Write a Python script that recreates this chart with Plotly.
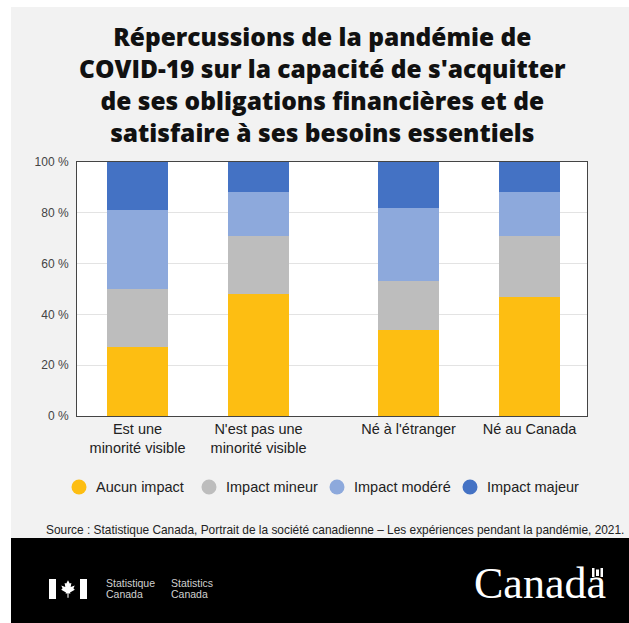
import plotly.graph_objects as go

# ---- data ----
categories = ["Est une<br>minorité visible", "N'est pas une<br>minorité visible",
              "Né à l'étranger", "Né au Canada"]
series_names = ["Aucun impact", "Impact mineur", "Impact modéré", "Impact majeur"]
aucun = [27, 48, 34, 47]
mineur = [23, 23, 19, 24]
modere = [31, 17, 29, 17]
majeur = [19, 12, 18, 12]
y_ticks = [0, 20, 40, 60, 80, 100]
y_tick_labels = ["0 %", "20 %", "40 %", "60 %", "80 %", "100 %"]

title_lines = ["Répercussions de la pandémie de",
               "COVID-19 sur la capacité de s'acquitter",
               "de ses obligations financières et de",
               "satisfaire à ses besoins essentiels"]
source_text = ("Source : Statistique Canada, Portrait de la société canadienne – "
               "Les expériences pendant la pandémie, 2021.")

# ---- layout helpers (window pixels) ----
W, H = 629, 623
L, R, T, B = 77, 587, 162, 416          # plot area
def px(x):  # pixel x -> paper
    return (x - L) / (R - L)
def py(y):  # pixel y -> paper
    return (B - y) / (B - T)

x_pos = [1, 2, 3.24, 4.24]
colors = ["#FDBE12", "#BDBDBD", "#8DA9DC", "#4472C4"]
values = [aucun, mineur, modere, majeur]

fig = go.Figure()
for name, vals, col in zip(series_names, values, colors):
    fig.add_trace(go.Bar(x=x_pos, y=vals, name=name, marker=dict(color=col, line=dict(width=0)),
                         width=0.5, showlegend=False))

font_sans = "Arial, Liberation Sans, sans-serif"

def rect(x0, x1, y0, y1, color, layer="above"):
    return dict(type="rect", xref="paper", yref="paper", x0=px(x0), x1=px(x1),
                y0=py(y1), y1=py(y0), fillcolor=color, line=dict(width=0), layer=layer)

shapes = [
    rect(-5, W + 5, -5, 7, "white", "below"),          # top white strip
    rect(-5, 11, -5, H + 5, "white", "below"),         # left white strip
    rect(11, W + 5, 538, H + 5, "black", "below"),     # footer
    rect(49, 56, 579, 599, "white"),
    rect(80, 87, 579, 599, "white"),
    rect(592, 594.5, 568, 577, "white"),
    rect(600.5, 603, 568, 577, "white"),
    rect(596, 599, 569.5, 576, "white"),
]

leaf = [(0, -6.5), (1.3, -4), (2.5, -4.5), (2, -1.5), (5, -2.5), (4, -0.5), (5, 0.5),
        (1.5, 2.5), (1.8, 3.5), (0.4, 3.2), (0.4, 6.5), (-0.4, 6.5), (-0.4, 3.2),
        (-1.8, 3.5), (-1.5, 2.5), (-5, 0.5), (-4, -0.5), (-5, -2.5), (-2, -1.5),
        (-2.5, -4.5), (-1.3, -4)]
cx, cy, s = 68, 589, 1.35
path = "M " + " L ".join(f"{px(cx + a * s):.5f},{py(cy + b * s):.5f}" for a, b in leaf) + " Z"
shapes.append(dict(type="path", xref="paper", yref="paper", path=path,
                   fillcolor="white", line=dict(width=0)))

annotations = [dict(text="<br>".join(title_lines), x=px(322.5), y=py(84), xref="paper", yref="paper",
                    xanchor="center", yanchor="middle", showarrow=False, align="center",
                    font=dict(family="Open Sans", size=24.5, color="#111111", weight=800))]

# manual legend (circles + labels)
legend_circle_x = [79, 209, 337, 470]
legend_y = 487
for name, col, cxl in zip(series_names, colors, legend_circle_x):
    shapes.append(dict(type="circle", xref="paper", yref="paper",
                       x0=px(cxl - 7.5), x1=px(cxl + 7.5), y0=py(legend_y + 7.5), y1=py(legend_y - 7.5),
                       fillcolor=col, line=dict(width=0)))
    annotations.append(dict(text=name, x=px(cxl + 15), y=py(legend_y), xref="paper", yref="paper",
                            xanchor="left", yanchor="middle", showarrow=False,
                            font=dict(family=font_sans, size=14.5, color="#222222")))

annotations.append(dict(text=source_text, x=px(334.5), y=py(530), xref="paper", yref="paper",
                        xanchor="center", yanchor="middle", showarrow=False,
                        font=dict(family=font_sans, size=11.9, color="#222222")))
for txt, xx, yy in [("Statistique", 104, 583), ("Canada", 104, 594),
                    ("Statistics", 169, 583), ("Canada", 169, 594)]:
    annotations.append(dict(text=txt, x=px(xx), y=py(yy), xref="paper", yref="paper",
                            xanchor="left", yanchor="middle", showarrow=False,
                            font=dict(family=font_sans, size=10.5, color="#d0d0d0")))
annotations.append(dict(text="Canada", x=px(472), y=py(583), xref="paper", yref="paper",
                        xanchor="left", yanchor="middle", showarrow=False,
                        font=dict(family="Liberation Serif, serif", size=44, color="white")))

fig.update_layout(
    width=W, height=H,
    margin=dict(l=L, r=W - R, t=T, b=H - B),
    paper_bgcolor="#F2F2F2", plot_bgcolor="white",
    barmode="stack", bargap=0,
    showlegend=False,
    shapes=shapes, annotations=annotations,
    xaxis=dict(range=[0.5, 0.5 + (R - L) / 121], tickvals=x_pos, ticktext=categories,
               showgrid=False, zeroline=False, showline=True, mirror=True,
               linecolor="#444444", linewidth=1, ticks="", automargin=False,
               tickfont=dict(family=font_sans, size=14.5, color="#222222"), fixedrange=True),
    yaxis=dict(range=[0, 100], tickvals=y_ticks, ticktext=y_tick_labels, showgrid=True,
               gridcolor="#E3E3E3", zeroline=False, showline=True, mirror=True,
               linecolor="#444444", linewidth=1, ticks="", automargin=False, ticklabelstandoff=5,
               tickfont=dict(family=font_sans, size=12, color="#444444"), fixedrange=True),
)

fig.write_html("out.html", config={"displayModeBar": False},
               post_script="document.body.style.margin='0';document.body.style.overflow='hidden';")
